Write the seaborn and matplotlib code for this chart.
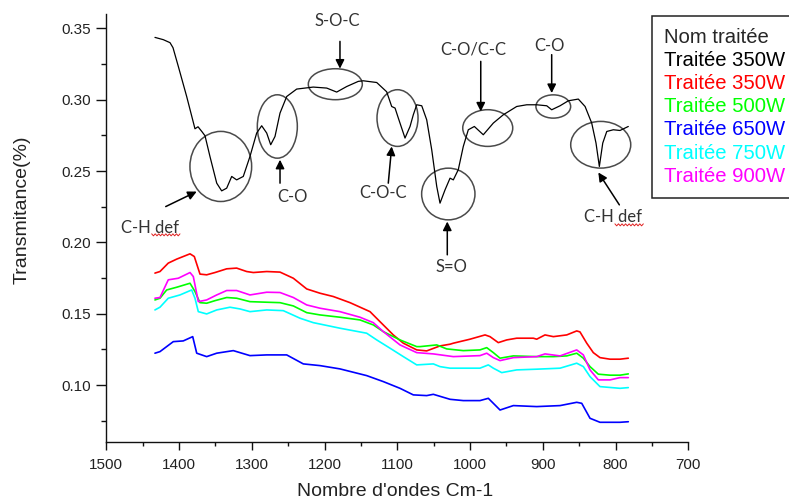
import numpy as np
import pandas as pd
import matplotlib
matplotlib.use("Agg")
import matplotlib.pyplot as plt
from matplotlib.patches import Ellipse
from matplotlib.ticker import MultipleLocator, FormatStrFormatter
import seaborn as sns

# ---- spectra: wavenumber (cm-1) and transmittance ----
wn_ref = [1433.1, 1421.6, 1412.4, 1408.3, 1401.0, 1389.5, 1378.1, 1373.9, 1368.4, 1364.3,
          1357.5, 1348.2, 1341.4, 1334.5, 1327.6, 1320.8, 1311.7, 1302.5, 1293.3, 1286.4,
          1279.5, 1274.0, 1268.1, 1261.2, 1252.0, 1238.3, 1215.5, 1197.0, 1183.3, 1169.5,
          1153.6, 1146.7, 1128.3, 1114.6, 1107.7, 1103.1, 1098.6, 1089.4, 1082.5, 1078.0,
          1073.3, 1066.4, 1059.6, 1052.7, 1045.8, 1041.3, 1034.4, 1027.5, 1023.0, 1016.2,
          1009.3, 1002.4, 994.1, 981.8, 968.0, 954.3, 935.9, 922.1, 908.4, 894.6,
          887.8, 876.3, 864.9, 851.2, 841.9, 832.8, 826.9, 822.3, 817.6, 812.1,
          803.1, 793.9, 782.5]
t_ref = [0.3436, 0.3420, 0.3399, 0.3364, 0.3233, 0.3022, 0.2796, 0.2810, 0.2775, 0.2747,
         0.2602, 0.2415, 0.2361, 0.2380, 0.2462, 0.2438, 0.2462, 0.2602, 0.2766, 0.2817,
         0.2766, 0.2684, 0.2742, 0.2906, 0.3022, 0.3074, 0.3088, 0.3081, 0.3053, 0.3092,
         0.3128, 0.3132, 0.3120, 0.3055, 0.2952, 0.2941, 0.2871, 0.2731, 0.2812, 0.2894,
         0.2964, 0.2957, 0.2859, 0.2649, 0.2392, 0.2275, 0.2368, 0.2450, 0.2438, 0.2509,
         0.2672, 0.2789, 0.2812, 0.2754, 0.2836, 0.2894, 0.2952, 0.2964, 0.2964, 0.2957,
         0.2929, 0.2957, 0.2992, 0.3004, 0.2952, 0.2836, 0.2696, 0.2532, 0.2696, 0.2777,
         0.2789, 0.2784, 0.2812]

wn_350 = [1433.1, 1426.2, 1414.8, 1403.2, 1384.9, 1379.0, 1371.2, 1362.0, 1350.6, 1334.5,
          1320.8, 1307.0, 1297.9, 1279.5, 1261.2, 1242.9, 1224.5, 1206.2, 1188.0, 1165.0,
          1137.5, 1123.8, 1105.5, 1091.7, 1073.3, 1059.6, 1041.3, 1027.5, 1023.0, 1000.1,
          979.4, 972.6, 961.2, 949.6, 935.9, 913.0, 908.4, 897.0, 885.5, 867.1,
          853.4, 848.9, 839.6, 830.6, 821.4, 807.6, 793.9, 782.5]
t_350 = [0.1785, 0.1796, 0.1855, 0.1883, 0.1920, 0.1901, 0.1778, 0.1773, 0.1789, 0.1815,
         0.1820, 0.1796, 0.1789, 0.1796, 0.1792, 0.1749, 0.1674, 0.1644, 0.1621, 0.1578,
         0.1515, 0.1445, 0.1352, 0.1294, 0.1247, 0.1240, 0.1275, 0.1287, 0.1294, 0.1322,
         0.1352, 0.1340, 0.1298, 0.1317, 0.1329, 0.1329, 0.1322, 0.1352, 0.1340, 0.1352,
         0.1380, 0.1373, 0.1294, 0.1228, 0.1193, 0.1182, 0.1182, 0.1189]

wn_500 = [1433.1, 1426.2, 1417.0, 1403.2, 1384.9, 1378.1, 1371.2, 1362.0, 1350.6, 1334.5,
          1320.8, 1302.5, 1279.5, 1261.2, 1242.9, 1224.5, 1206.2, 1178.8, 1151.3, 1133.0,
          1119.2, 1096.3, 1073.3, 1068.8, 1045.8, 1032.1, 1009.3, 986.4, 977.1, 968.0,
          958.8, 940.5, 908.4, 885.5, 867.1, 853.4, 844.3, 835.1, 823.7, 807.6,
          793.9, 782.5]
t_500 = [0.1597, 0.1609, 0.1667, 0.1686, 0.1714, 0.1656, 0.1578, 0.1574, 0.1592, 0.1614,
         0.1609, 0.1585, 0.1581, 0.1578, 0.1555, 0.1508, 0.1492, 0.1476, 0.1457, 0.1422,
         0.1375, 0.1317, 0.1270, 0.1270, 0.1282, 0.1254, 0.1242, 0.1247, 0.1263, 0.1228,
         0.1189, 0.1205, 0.1200, 0.1200, 0.1205, 0.1224, 0.1189, 0.1130, 0.1077, 0.1070,
         0.1070, 0.1079]

wn_650 = [1433.1, 1426.2, 1407.9, 1394.2, 1381.2, 1375.7, 1362.0, 1348.2, 1325.4, 1302.5,
          1279.5, 1252.0, 1229.2, 1206.2, 1178.8, 1142.1, 1119.2, 1096.3, 1078.0, 1059.6,
          1050.5, 1027.5, 1009.3, 986.4, 974.9, 968.0, 958.8, 940.5, 908.4, 876.3,
          853.4, 846.5, 835.1, 821.4, 793.9, 782.5]
t_650 = [0.1224, 0.1235, 0.1305, 0.1310, 0.1340, 0.1224, 0.1200, 0.1224, 0.1242, 0.1207,
         0.1212, 0.1212, 0.1149, 0.1137, 0.1114, 0.1067, 0.1025, 0.0978, 0.0932, 0.0927,
         0.0936, 0.0901, 0.0892, 0.0892, 0.0908, 0.0873, 0.0826, 0.0857, 0.0850, 0.0857,
         0.0880, 0.0873, 0.0768, 0.0740, 0.0740, 0.0744]

wn_750 = [1433.1, 1426.2, 1414.8, 1398.7, 1382.6, 1378.1, 1373.5, 1362.0, 1348.2, 1330.0,
          1316.2, 1302.5, 1279.5, 1256.7, 1233.7, 1215.5, 1178.8, 1142.1, 1128.3, 1110.0,
          1091.7, 1073.3, 1050.5, 1041.3, 1027.5, 986.4, 974.9, 968.0, 956.5, 935.9,
          908.4, 876.3, 853.4, 844.3, 835.1, 821.4, 793.9, 782.5]
t_750 = [0.1527, 0.1546, 0.1609, 0.1632, 0.1667, 0.1609, 0.1515, 0.1499, 0.1527, 0.1546,
         0.1534, 0.1515, 0.1527, 0.1522, 0.1469, 0.1438, 0.1399, 0.1364, 0.1317, 0.1259,
         0.1200, 0.1142, 0.1149, 0.1130, 0.1119, 0.1119, 0.1142, 0.1119, 0.1088, 0.1107,
         0.1112, 0.1119, 0.1154, 0.1130, 0.1060, 0.0990, 0.0978, 0.0983]

wn_900 = [1433.1, 1426.2, 1414.8, 1401.0, 1384.9, 1380.4, 1373.5, 1362.0, 1348.2, 1334.5,
          1320.8, 1302.5, 1279.5, 1261.2, 1242.9, 1224.5, 1206.2, 1178.8, 1151.3, 1133.0,
          1119.2, 1096.3, 1073.3, 1050.5, 1023.0, 986.4, 977.1, 968.0, 958.8, 940.5,
          908.4, 897.0, 876.3, 853.4, 844.3, 835.1, 823.7, 807.6, 793.9, 782.5]
t_900 = [0.1609, 0.1614, 0.1738, 0.1749, 0.1789, 0.1761, 0.1585, 0.1597, 0.1632, 0.1663,
         0.1663, 0.1632, 0.1651, 0.1649, 0.1614, 0.1562, 0.1539, 0.1515, 0.1476, 0.1438,
         0.1375, 0.1282, 0.1228, 0.1219, 0.1200, 0.1207, 0.1224, 0.1193, 0.1172, 0.1193,
         0.1200, 0.1219, 0.1205, 0.1247, 0.1212, 0.1107, 0.1037, 0.1037, 0.1053, 0.1053]

series_keys = ["ref", "350W", "500W", "650W", "750W", "900W"]
legend_title = "Nom traitée"
legend_labels = ["Traitée 350W", "Traitée 350W", "Traitée 500W",
                 "Traitée 650W", "Traitée 750W", "Traitée 900W"]
series_colors = ["#000000", "#ff0000", "#00ff00", "#0000ff", "#00ffff", "#ff00ff"]

# ---- band assignments on the reference spectrum ----
band_labels = ["C-H def", "C-O", "S-O-C", "C-O-C", "S=O", "C-O/C-C", "C-O", "C-H def"]
label_wn = [1439.9, 1243.6, 1182.2, 1119.2, 1025.2, 995.5, 890.5, 803.1]
label_t = [0.2065, 0.2286, 0.3513, 0.2310, 0.1796, 0.3315, 0.3338, 0.2146]
ring_wn = [1342.6, 1264.9, 1185.2, 1099.7, 1029.9, 975.7, 885.6, 820.4]
ring_t = [0.2532, 0.2812, 0.3108, 0.2871, 0.2339, 0.2801, 0.2952, 0.2684]
ring_w = [84.8, 55.0, 74.2, 56.4, 73.3, 68.7, 47.7, 82.5]
ring_h = [0.0491, 0.0444, 0.0217, 0.0397, 0.0362, 0.0257, 0.0163, 0.0327]
arrow_from_wn = [1418.3, 1261.2, 1178.8, 1112.4, 1031.3, 985.3, 887.8, 794.8]
arrow_from_t = [0.2251, 0.2415, 0.3408, 0.2415, 0.1913, 0.3268, 0.3315, 0.2263]
arrow_to_wn = [1375.7, 1261.2, 1178.8, 1107.7, 1031.3, 985.3, 887.8, 823.7]
arrow_to_t = [0.2356, 0.2579, 0.3217, 0.2672, 0.2146, 0.2917, 0.3046, 0.2490]
# spell-check squiggle under "def"
squiggle_wn = [(1437.6, 1398.7), (800.9, 761.8)]
squiggle_t = [0.2053, 0.2123]

# ---- long table for seaborn ----
xs = [wn_ref, wn_350, wn_500, wn_650, wn_750, wn_900]
ys = [t_ref, t_350, t_500, t_650, t_750, t_900]
frames = [pd.DataFrame({"wn": x, "T": y, "serie": k}) for x, y, k in zip(xs, ys, series_keys)]
df = pd.concat(frames, ignore_index=True)

sns.set_style("ticks")
plt.rcParams["font.family"] = ["Liberation Sans", "DejaVu Sans"]

fig = plt.figure(figsize=(7.89, 5.01), dpi=100)
ax = fig.add_axes([0.1347, 0.1172, 0.7377, 0.8549])

palette = dict(zip(series_keys, series_colors))
sns.lineplot(data=df, x="wn", y="T", hue="serie", hue_order=series_keys,
             palette=palette, estimator=None, sort=False, legend=False, ax=ax)
for line, key in zip(ax.lines, series_keys):
    line.set_linewidth(0.9 if key == "ref" else 1.2)

ax.set_xlim(1500, 700)
ax.set_ylim(0.06, 0.36)
ax.xaxis.set_major_locator(MultipleLocator(100))
ax.xaxis.set_minor_locator(MultipleLocator(50))
ax.yaxis.set_major_locator(MultipleLocator(0.05))
ax.yaxis.set_minor_locator(MultipleLocator(0.025))
ax.yaxis.set_major_formatter(FormatStrFormatter("%.2f"))
ax.xaxis.set_major_formatter(FormatStrFormatter("%d"))
ax.set_ylim(0.06, 0.36)

for s in ["top", "right"]:
    ax.spines[s].set_visible(False)
for s in ["left", "bottom"]:
    ax.spines[s].set_linewidth(1.0)
    ax.spines[s].set_color("#111111")

ax.tick_params(axis="both", which="both", direction="out", color="#111111",
               width=1.0, labelsize=11, labelcolor="#222222")
ax.tick_params(axis="x", which="major", length=6, pad=5)
ax.tick_params(axis="x", which="minor", length=3)
ax.tick_params(axis="y", which="major", length=7, pad=4)
ax.tick_params(axis="y", which="minor", length=3.5)

ax.set_xlabel("Nombre d'ondes Cm-1", fontsize=14, color="#222222")
ax.set_ylabel("Transmitance(%)", fontsize=14, color="#222222")
ax.xaxis.label.set_va("center")
ax.yaxis.label.set_va("center")
ax.xaxis.set_label_coords(0.496, -0.116)
ax.yaxis.set_label_coords(-0.1443, 0.542)

# ---- band annotations ----
ann_font = ["Lato", "DejaVu Sans"]
for i, lab in enumerate(band_labels):
    ax.add_patch(Ellipse((ring_wn[i], ring_t[i]), ring_w[i], ring_h[i],
                         fill=False, edgecolor="#4a4a4a", linewidth=1.1))
    ax.annotate("", xy=(arrow_to_wn[i], arrow_to_t[i]),
                xytext=(arrow_from_wn[i], arrow_from_t[i]),
                arrowprops=dict(arrowstyle="-|>", color="black", lw=1.1,
                                mutation_scale=13, shrinkA=0, shrinkB=0))
    ax.text(label_wn[i], label_t[i], lab, ha="center", va="baseline",
            fontsize=12, color="#333333", family=ann_font)

for (w0, w1), t0 in zip(squiggle_wn, squiggle_t):
    n = int(abs(w0 - w1) / 2.2) | 1
    zx = np.linspace(w0, w1, n)
    zy = t0 + 0.0007 * np.where(np.arange(n) % 2 == 0, 1, -1)
    ax.plot(zx, zy, color="#e02020", lw=0.7)

# ---- legend: coloured names only ----
leg = ax.legend(handles=ax.lines[:6], labels=legend_labels, title=legend_title,
                loc="upper left", bbox_to_anchor=(651.7 / 789, 1 - 15.7 / 501),
                bbox_transform=fig.transFigure, borderaxespad=0,
                handlelength=0, handletextpad=0,
                labelcolor=series_colors, fontsize=14.6, title_fontsize=14.6,
                alignment="left", labelspacing=0.2, borderpad=0.62,
                fancybox=False, framealpha=1, edgecolor="#222222")
leg.get_frame().set_linewidth(1.1)
for h in leg.legend_handles:
    h.set_visible(False)

fig.savefig("out.png", dpi=100)
